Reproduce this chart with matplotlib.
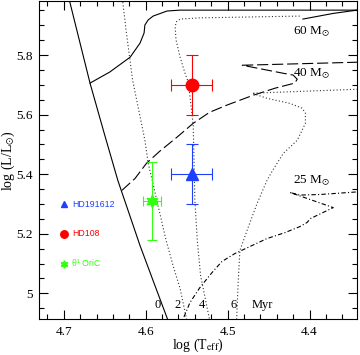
import matplotlib
matplotlib.use("Agg")
import matplotlib.pyplot as plt
from matplotlib.ticker import MultipleLocator, FixedLocator

plt.rcParams['font.family'] = ['Liberation Serif', 'DejaVu Serif']
plt.rcParams['mathtext.fontset'] = 'stix'

# zero age main sequence
zams_t = [4.693, 4.668, 4.650, 4.634, 4.607, 4.591, 4.573, 4.568]
zams_l = [5.982, 5.706, 5.531, 5.379, 5.161, 5.043, 4.911, 4.874]

# evolutionary tracks
m60_t = [4.668, 4.644, 4.619, 4.607, 4.602, 4.601, 4.597, 4.591, 4.574, 4.558, 4.33]
m60_l = [5.706, 5.743, 5.793, 5.840, 5.874, 5.901, 5.918, 5.931, 5.948, 5.951, 5.951]
m60b_t = [4.408, 4.371, 4.342, 4.33]
m60b_l = [5.921, 5.940, 5.951, 5.955]

m40_t = [4.629, 4.613, 4.599, 4.583, 4.562, 4.542, 4.522, 4.501, 4.469, 4.442,
         4.418, 4.415, 4.420, 4.432, 4.482, 4.412, 4.33]
m40_l = [5.346, 5.386, 5.437, 5.477, 5.524, 5.571, 5.608, 5.632, 5.665, 5.689,
         5.706, 5.719, 5.733, 5.739, 5.766, 5.771, 5.777]

m25_t = [4.558, 4.546, 4.534, 4.519, 4.507, 4.491, 4.473, 4.452, 4.430, 4.412,
         4.403, 4.399, 4.371, 4.424, 4.412, 4.387, 4.33]
m25_l = [4.890, 4.969, 5.019, 5.070, 5.107, 5.134, 5.157, 5.184, 5.204, 5.224,
         5.238, 5.251, 5.288, 5.339, 5.330, 5.332, 5.343]

# isochrones
iso2_t = [4.628, 4.624, 4.620, 4.616, 4.611, 4.601, 4.597, 4.592, 4.585, 4.575,
          4.567, 4.558, 4.550, 4.546]
iso2_l = [5.978, 5.884, 5.800, 5.716, 5.649, 5.514, 5.437, 5.379, 5.295, 5.177,
          5.097, 5.016, 4.911, 4.874]

iso4_t = [4.412, 4.473, 4.534, 4.558, 4.563, 4.564, 4.563, 4.558, 4.552, 4.548,
          4.544, 4.542, 4.541, 4.540, 4.537, 4.533, 4.528, 4.522, 4.520]
iso4_l = [5.931, 5.928, 5.925, 5.921, 5.911, 5.891, 5.851, 5.793, 5.739, 5.709,
          5.615, 5.564, 5.447, 5.312, 5.177, 5.060, 4.992, 4.911, 4.874]

iso6_t = [4.336, 4.470, 4.452, 4.424, 4.409, 4.405, 4.405, 4.415, 4.432, 4.445,
          4.452, 4.464, 4.475, 4.485, 4.487, 4.489, 4.489]
iso6_l = [5.686, 5.672, 5.655, 5.638, 5.622, 5.605, 5.571, 5.514, 5.470, 5.413,
          5.379, 5.302, 5.221, 5.144, 5.043, 4.911, 4.874]

# stars
star_names = ['HD191612', 'HD108', 'θ¹ OriC']
star_t = [4.544, 4.544, 4.592]
star_l = [5.40, 5.70, 5.31]
star_terr = [0.025, 0.025, 0.011]
star_lerr = [0.10, 0.10, 0.13]
star_colors = ['#1f3fff', '#ff0000', '#33ff11']
star_markers = ['^', 'o', (6, 1, 0)]
star_ms = [8, 9, 9]
star_caps = [4.2, 4.2, 3.5]
legend_l = [5.30, 5.20, 5.10]

mass_labels = ['60 M$_{\\odot}$', '40 M$_{\\odot}$', '25 M$_{\\odot}$']
mass_label_l = [5.878, 5.738, 5.379]

age_labels = ['0', '2', '4', '6', 'Myr']
age_label_t = [4.586, 4.561, 4.531, 4.493, 4.458]

fig = plt.figure(figsize=(3.6, 3.55), dpi=100)
ax = fig.add_axes([0.109, 0.1014, 0.8827, 0.8944])

lw = 0.8
ax.plot(zams_t, zams_l, color='black', lw=lw)
ax.plot(m60_t, m60_l, color='black', lw=lw)
ax.plot(m60b_t, m60b_l, color='black', lw=lw)
ax.plot(m40_t, m40_l, color='black', lw=lw, dashes=(10, 3.5))
ax.plot(m25_t, m25_l, color='black', lw=lw, dashes=(4, 2, 1, 2))
for t, l in [(iso2_t, iso2_l), (iso4_t, iso4_l), (iso6_t, iso6_l)]:
    ax.plot(t, l, color='#333333', lw=lw, dashes=(1, 2))

for i in range(3):
    ax.errorbar(star_t[i], star_l[i], xerr=star_terr[i], yerr=star_lerr[i],
                fmt='none', ecolor=star_colors[i], elinewidth=0.8,
                capsize=star_caps[i], capthick=0.8, zorder=4)
    ax.plot(star_t[i], star_l[i], marker=star_markers[i], ms=star_ms[i],
            color=star_colors[i], mec=star_colors[i], zorder=5)
    # legend
    ax.plot(4.70, legend_l[i], marker=star_markers[i], ms=star_ms[i] * 0.6,
            color=star_colors[i], mec=star_colors[i])
    ax.text(4.69, legend_l[i], star_names[i], color=star_colors[i],
            fontsize=6.3, family=['Liberation Sans', 'DejaVu Sans'],
            ha='left', va='center')

for lab, y in zip(mass_labels, mass_label_l):
    ax.text(4.42, y, lab, fontsize=9.5, ha='left', va='center')
for lab, x in zip(age_labels, age_label_t):
    ax.text(x, 4.962, lab, fontsize=9, ha='center', va='center')

ax.set_xlim(4.73, 4.342)
ax.set_ylim(4.914, 5.98)
ax.xaxis.set_major_locator(FixedLocator([4.7, 4.6, 4.5, 4.4]))
ax.xaxis.set_minor_locator(MultipleLocator(0.02))
ax.yaxis.set_major_locator(FixedLocator([5.0, 5.2, 5.4, 5.6, 5.8]))
ax.yaxis.set_minor_locator(MultipleLocator(0.05))
ax.set_xticklabels(['4.7', '4.6', '4.5', '4.4'])
ax.set_yticklabels(['5', '5.2', '5.4', '5.6', '5.8'])
ax.tick_params(which='both', direction='in', top=True, right=True,
               width=0.8, labelsize=9.5, pad=5)
ax.tick_params(which='major', length=6.5)
ax.tick_params(which='minor', length=3.5)
for s in ax.spines.values():
    s.set_linewidth(0.8)

ax.set_xlabel('log (T$_{\\rm eff}$)', fontsize=10)
ax.set_ylabel('log (L/L$_{\\odot}$)', fontsize=10)
ax.xaxis.set_label_coords(0.5, -0.056)
ax.yaxis.set_label_coords(-0.07, 0.5)

fig.savefig('out.png', dpi=100)
